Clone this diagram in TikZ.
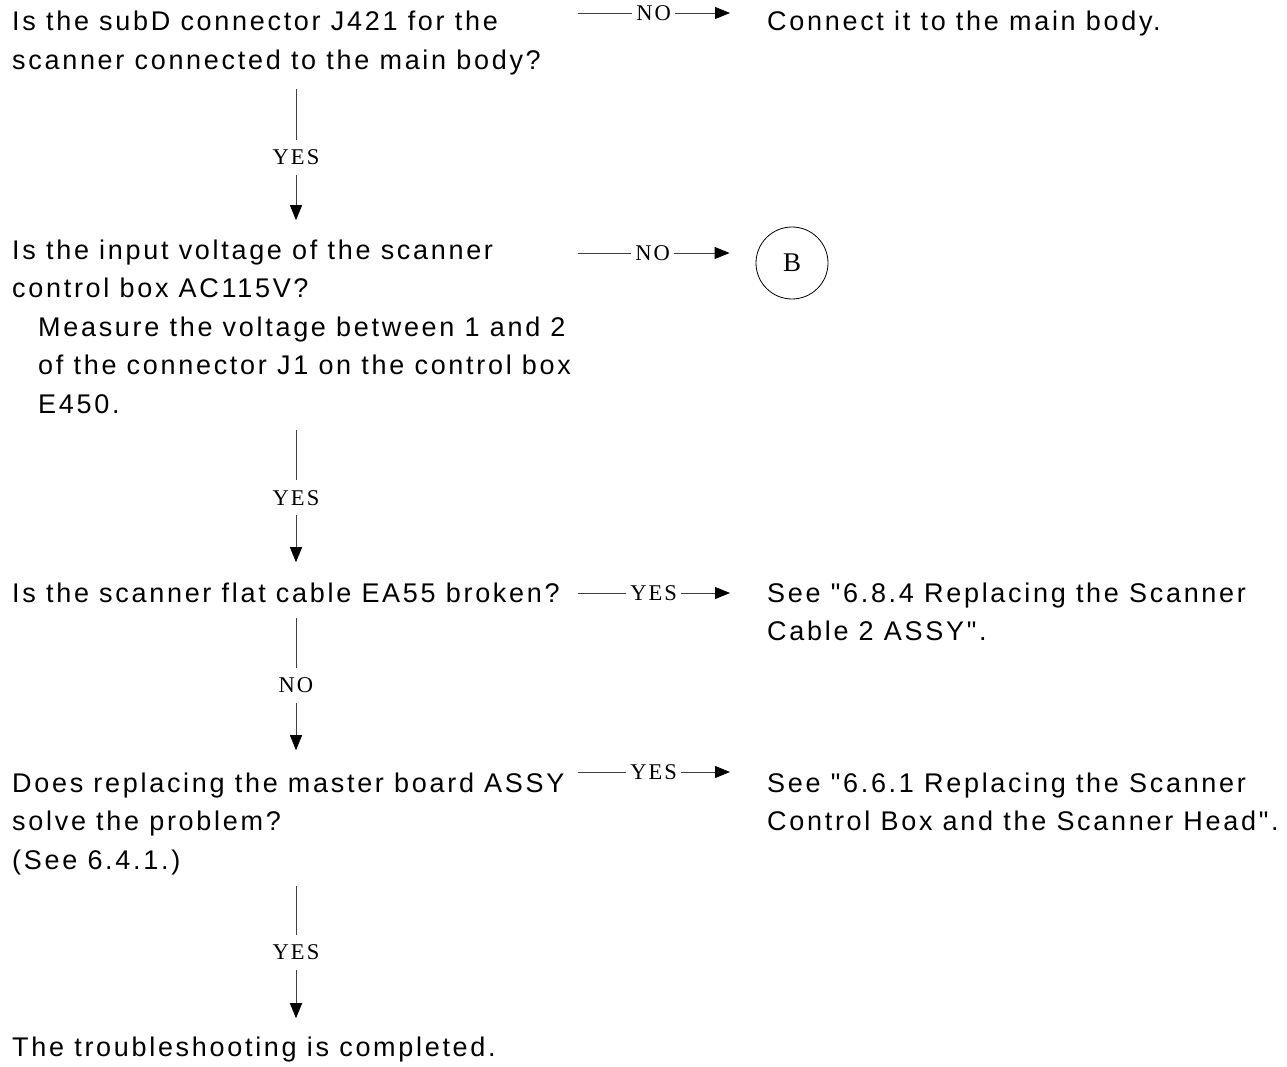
\documentclass[tikz,border=0pt]{standalone}
\usepackage{fontspec}
\setmainfont{Liberation Sans}[LetterSpace=10, Ligatures=TeXOff]
\newfontfamily\lblfont{Liberation Serif}[LetterSpace=9]
\usetikzlibrary{arrows.meta}
\tikzset{
  txt/.style={anchor=base west, inner sep=0pt, align=left,
    font=\fontsize{27}{38.5}\selectfont},
  conn/.style={draw=black!75, line width=0.9pt,
    -{Triangle[length=15pt,width=12pt,fill=black,color=black]}},
  vlbl/.style={font=\lblfont\fontsize{22.5}{24}\selectfont, fill=white,
    inner xsep=2pt, inner ysep=10pt, text=black},
  hlbl/.style={font=\lblfont\fontsize{22.5}{24}\selectfont, fill=white,
    inner xsep=4pt, inner ysep=2pt, text=black},
  conncircle/.style={circle, draw=black, line width=0.8pt, minimum size=72pt,
    inner sep=0pt, font=\lblfont\fontsize{27}{30}\selectfont}
}
\begin{document}
\begin{tikzpicture}[x=1pt,y=-1pt]
\useasboundingbox (0,0) rectangle (1287,1067);
\fill[white] (0,0) rectangle (1287,1067);

% question nodes (anchored at the baseline of their last line)
\node[txt] (q1) at (12,69.5) {Is the subD connector J421 for the\\scanner connected to the main body?};
\node[txt] (q2) at (12,413) {Is the input voltage of the scanner\\control box AC115V?\\\hspace*{26pt}Measure the voltage between 1 and 2\\\hspace*{26pt}of the connector J1 on the control box\\\hspace*{26pt}E450.};
\node[txt] (q3) at (12,602) {Is the scanner flat cable EA55 broken?};
\node[txt] (q4) at (12,869) {Does replacing the master board ASSY\\solve the problem?\\(See 6.4.1.)};
\node[txt] (fin) at (12,1056) {The troubleshooting is completed.};

% answer nodes
\node[txt] (a1) at (767,31) {Connect it to the main body.};
\node[conncircle] (B) at (792,263) {B};
\node[txt] (a3) at (767,640.5) {See "6.8.4 Replacing the Scanner\\Cable 2 ASSY".};
\node[txt] (a4) at (767,830.5) {See "6.6.1 Replacing the Scanner\\Control Box and the Scanner Head".};

% vertical axis and horizontal start points
\coordinate (X) at (296,0);
\coordinate (h1) at (578,13);
\coordinate (h2) at (578,253);
\coordinate (h3) at (578,593);
\coordinate (h4) at (578,772);

% vertical connectors
\draw[conn, shorten <=14pt, shorten >=19pt] (q1.south -| X) -- node[vlbl, pos=0.5]{YES} (q2.north -| X);
\draw[conn, shorten <=17pt, shorten >=20pt] (q2.south -| X) -- node[vlbl, pos=0.5]{YES} (q3.north -| X);
\draw[conn, shorten <=16pt, shorten >=22pt] (q3.south -| X) -- node[vlbl, pos=0.49]{NO} (q4.north -| X);
\draw[conn, shorten <=11pt, shorten >=18pt] (q4.south -| X) -- node[vlbl, pos=0.48]{YES} (fin.north -| X);

% horizontal connectors
\draw[conn, shorten >=37pt] (h1) -- node[hlbl, pos=0.40]{NO} (a1.west |- h1);
\draw[conn, shorten >=26pt] (h2) -- node[hlbl, pos=0.42]{NO} (B.west |- h2);
\draw[conn, shorten >=37pt] (h3) -- node[hlbl, pos=0.40]{YES} (a3.west |- h3);
\draw[conn, shorten >=37pt] (h4) -- node[hlbl, pos=0.40]{YES} (a4.west |- h4);
\end{tikzpicture}
\end{document}
